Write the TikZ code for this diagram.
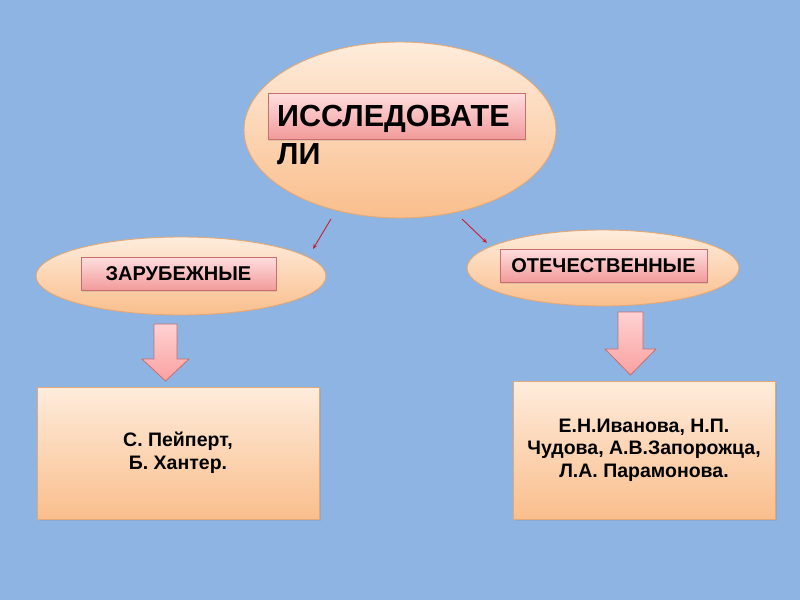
\documentclass[tikz,border=0pt]{standalone}
\usepackage{fontspec}
\setmainfont{Liberation Sans}
\usetikzlibrary{shapes.geometric,arrows.meta,shadows}

\definecolor{slidebg}{RGB}{141,180,226}
\definecolor{ovaltop}{RGB}{254,236,220}
\definecolor{ovalbot}{RGB}{250,190,140}
\definecolor{ovalline}{RGB}{226,168,118}
\definecolor{tagtop}{RGB}{255,222,222}
\definecolor{tagbot}{RGB}{242,155,155}
\definecolor{tagline}{RGB}{200,110,110}
\definecolor{fattop}{RGB}{255,210,210}
\definecolor{fatbot}{RGB}{250,160,160}
\definecolor{ptrred}{RGB}{200,30,50}

\begin{document}
\begin{tikzpicture}[x=1pt, y=-1pt, line join=round]
  \tikzset{
    oval/.style={ellipse, draw=ovalline, line width=0.9pt, top color=ovaltop, bottom color=ovalbot, inner sep=0pt},
    tag/.style={rectangle, draw=tagline, line width=0.8pt, top color=tagtop, bottom color=tagbot, inner sep=0pt,
      drop shadow={opacity=0.2, shadow xshift=1pt, shadow yshift=-1.5pt},
      font=\bfseries\fontsize{20pt}{22pt}\selectfont},
    card/.style={rectangle, draw=ovalline, line width=0.8pt, top color=ovaltop, bottom color=ovalbot, inner sep=0pt,
      drop shadow={opacity=0.2, shadow xshift=1.5pt, shadow yshift=-2pt},
      align=center, font=\bfseries\fontsize{19.5pt}{22.5pt}\selectfont},
    bigtxt/.style={anchor=base west, inner sep=0pt, font=\bfseries\fontsize{30.5pt}{36pt}\selectfont},
    ptr/.style={draw=ptrred, line width=0.9pt, -{Stealth[length=5pt, width=4pt]}},
    fat/.style={draw=tagline, line width=0.8pt, top color=fattop, bottom color=fatbot}
  }

  % Slide background
  \useasboundingbox (0,0) rectangle (800,600);
  \fill[slidebg] (0,0) rectangle (800,600);

  % Top oval: researchers
  \node[oval, minimum width=312pt, minimum height=176pt] (top) at (400,130) {};
  \node[tag, minimum width=257pt, minimum height=46pt] (toptag) at (396.5,116) {};
  \node[bigtxt] (toptxt) at (277,126) {ИССЛЕДОВАТЕ};
  \node[bigtxt] (toptxtb) at (277,164) {ЛИ};

  % Left oval: foreign
  \node[oval, minimum width=290pt, minimum height=78pt] (abroad) at (181,276) {};
  \node[tag, minimum width=195pt, minimum height=33pt] (abroadtag) at (178.5,273.5) {ЗАРУБЕЖНЫЕ};

  % Right oval: domestic
  \node[oval, minimum width=272pt, minimum height=76pt] (home) at (603,268) {};
  \node[tag, minimum width=207pt, minimum height=33pt] (hometag) at (603.5,265.5) {ОТЕЧЕСТВЕННЫЕ};

  % Thin red pointers
  \coordinate (lfrom) at (331,219);
  \coordinate (lto) at (313,249);
  \coordinate (rfrom) at (462,219);
  \coordinate (rto) at (487,243);
  \draw[ptr] (lfrom) -- (lto);
  \draw[ptr] (rfrom) -- (rto);

  % Block arrows
  \draw[fat] (154,324) -- (177,324) -- (177,359) -- (189,359) -- (165.5,381) -- (142,359) -- (154,359) -- cycle;
  \draw[fat] (618,312) -- (643,312) -- (643,349) -- (656,349) -- (630.5,375) -- (605,349) -- (618,349) -- cycle;

  % Name cards
  \node[card, minimum width=282pt, minimum height=132pt] (abroadcard) at (178,453) {С. Пейперт,\\Б. Хантер.};
  \node[card, minimum width=262pt, minimum height=138pt] (homecard) at (644,450)
    {Е.Н.Иванова, Н.П.\\Чудова, А.В.Запорожца,\\Л.А. Парамонова.};

\end{tikzpicture}
\end{document}
